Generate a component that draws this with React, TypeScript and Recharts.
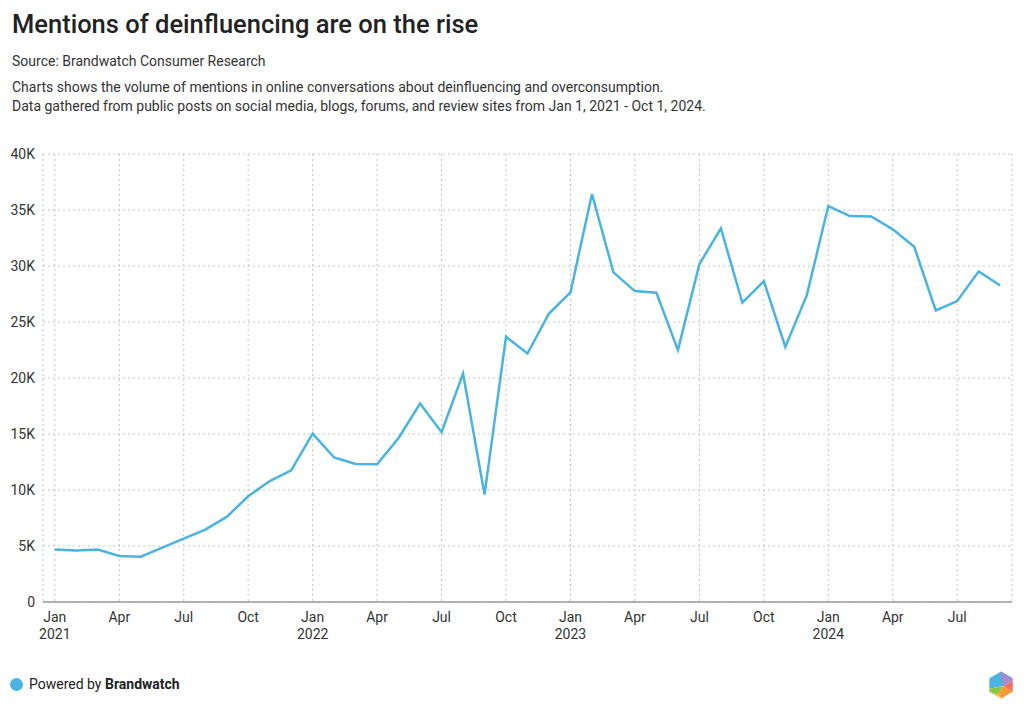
import React from "react";
import { LineChart, Line, XAxis, YAxis, CartesianGrid } from "recharts";

const months: string[] = [
  "2021-01","2021-02","2021-03","2021-04","2021-05","2021-06","2021-07","2021-08","2021-09","2021-10","2021-11","2021-12",
  "2022-01","2022-02","2022-03","2022-04","2022-05","2022-06","2022-07","2022-08","2022-09","2022-10","2022-11","2022-12",
  "2023-01","2023-02","2023-03","2023-04","2023-05","2023-06","2023-07","2023-08","2023-09","2023-10","2023-11","2023-12",
  "2024-01","2024-02","2024-03","2024-04","2024-05","2024-06","2024-07","2024-08","2024-09",
];

const mentions: number[] = [
  4680, 4590, 4680, 4110, 4050, 4850, 5660, 6460, 7600, 9440, 10800, 11760,
  15040, 12900, 12330, 12300, 14650, 17720, 15160, 20400, 9590, 23680, 22190, 25760,
  27640, 36430, 29430, 27760, 27610, 22490, 30170, 33360, 26720, 28650, 22780, 27400,
  35350, 34460, 34430, 33270, 31720, 26030, 26870, 29520, 28260,
];

const yTicks: number[] = [0, 5000, 10000, 15000, 20000, 25000, 30000, 35000, 40000];
const xTickIndexes: number[] = [0, 3, 6, 9, 12, 15, 18, 21, 24, 27, 30, 33, 36, 39, 42];
const monthNames: string[] = ["Jan","Feb","Mar","Apr","May","Jun","Jul","Aug","Sep","Oct","Nov","Dec"];

const data = months.map((m, i) => ({ x: i, month: m, value: mentions[i] }));

const FONT = "Roboto, 'Noto Sans', sans-serif";
const LINE_COLOR = "#4AB3DF";

const XTick = (props: any) => {
  const { x, y, payload } = props;
  const idx = payload.value as number;
  const [yr, mo] = months[idx].split("-");
  const mName = monthNames[parseInt(mo, 10) - 1];
  return (
    <g>
      <text x={x} y={y + 12} textAnchor="middle" fill="#333" fontSize={14} fontFamily={FONT}>
        {mName}
      </text>
      {mName === "Jan" && (
        <text x={x} y={y + 29} textAnchor="middle" fill="#333" fontSize={14} fontFamily={FONT}>
          {yr}
        </text>
      )}
    </g>
  );
};

const fmtY = (v: number) => (v === 0 ? "0" : `${v / 1000}K`);

const Logo = () => {
  const cx = 1001, cy = 685, r = 13.5;
  const pts = Array.from({ length: 6 }, (_, k) => {
    const a = (Math.PI / 180) * (-90 + 60 * k);
    return [cx + r * Math.cos(a), cy + r * Math.sin(a)];
  });
  const [top, tr, br, bot, bl, tl] = pts;
  const c = [cx + 2, cy + 1];
  const p = (arr: number[][]) => arr.map((q) => q.join(",")).join(" ");
  return (
    <svg width={1024} height={709} style={{ position: "absolute", left: 0, top: 0, pointerEvents: "none" }}>
      <polygon points={p([top, tr, c, [bl[0], bl[1] - 3], tl])} fill="#4DB3E2" />
      <polygon points={p([top, tr, [tr[0] - 2, tr[1] + 4], c])} fill="#A88BD0" />
      <polygon points={p([[tr[0] - 2, tr[1] + 4], tr, br, c])} fill="#F2705D" />
      <polygon points={p([c, br, bot, [cx - 3, cy + 9]])} fill="#F89A3A" />
      <polygon points={p([[cx - 3, cy + 9], bot, [bl[0] + 4, bl[1] + 2]])} fill="#FDC22D" />
      <polygon points={p([[bl[0], bl[1] - 3], c, [cx - 3, cy + 9], [bl[0] + 4, bl[1] + 2], bl])} fill="#8CC63F" />
    </svg>
  );
};

export default function App() {
  return (
    <div
      style={{
        position: "absolute",
        left: 0,
        top: 0,
        width: 1024,
        height: 709,
        background: "#fff",
        fontFamily: FONT,
        color: "#222",
        overflow: "hidden",
      }}
    >
      <div style={{ position: "absolute", left: 12, top: 9, fontSize: 25.5, fontWeight: 500, color: "#222", whiteSpace: "nowrap" }}>
        Mentions of deinfluencing are on the rise
      </div>
      <div style={{ position: "absolute", left: 12, top: 53, fontSize: 14, color: "#333", whiteSpace: "nowrap" }}>
        Source: Brandwatch Consumer Research
      </div>
      <div style={{ position: "absolute", left: 12, top: 78, fontSize: 14, color: "#333", whiteSpace: "nowrap", lineHeight: "18.5px" }}>
        Charts shows the volume of mentions in online conversations about deinfluencing and overconsumption.
        <br />
        Data gathered from public posts on social media, blogs, forums, and review sites from Jan 1, 2021 - Oct 1, 2024.
      </div>

      <div style={{ position: "absolute", left: 0, top: 0 }}>
        <LineChart
          width={1024}
          height={709}
          data={data}
          margin={{ top: 154, right: 12, bottom: 67, left: 0 }}
        >
          <CartesianGrid stroke="#c4c4c4" strokeDasharray="2 3" />
          <XAxis
            dataKey="x"
            type="number"
            domain={[-0.55, 44.55]}
            ticks={xTickIndexes}
            interval={0}
            tick={<XTick />}
            tickLine={false}
            axisLine={{ stroke: "#9a9a9a", strokeWidth: 1.5 }}
            height={40}
            allowDataOverflow
          />
          <YAxis
            type="number"
            domain={[0, 40000]}
            ticks={yTicks}
            tickFormatter={fmtY}
            width={43}
            tickLine={false}
            axisLine={false}
            tick={{ fill: "#333", fontSize: 14, fontFamily: FONT }}
          />
          <Line
            type="linear"
            dataKey="value"
            stroke={LINE_COLOR}
            strokeWidth={2.5}
            dot={false}
            activeDot={false}
            isAnimationActive={false}
          />
        </LineChart>
      </div>

      <div style={{ position: "absolute", left: 10, top: 678, width: 13, height: 13, borderRadius: "50%", background: "#4DB3E2" }} />
      <div style={{ position: "absolute", left: 29, top: 676, fontSize: 14, color: "#222", whiteSpace: "nowrap" }}>
        Powered by <span style={{ fontWeight: 700 }}>Brandwatch</span>
      </div>
      <Logo />
    </div>
  );
}
